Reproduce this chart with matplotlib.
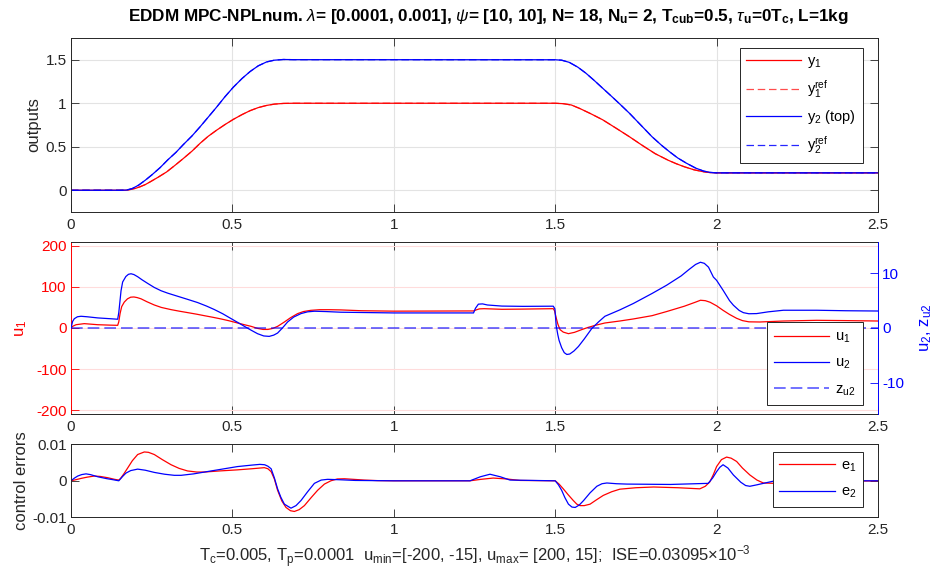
import matplotlib
matplotlib.use('Agg')
import matplotlib.pyplot as plt

plt.rcParams['font.family'] = ['Liberation Sans', 'DejaVu Sans']
plt.rcParams['mathtext.fontset'] = 'custom'
plt.rcParams['mathtext.rm'] = 'Liberation Sans'
plt.rcParams['mathtext.it'] = 'Liberation Sans:italic'
plt.rcParams['mathtext.bf'] = 'Liberation Sans:bold'
plt.rcParams['axes.unicode_minus'] = False

# ---------------- data ----------------
t_y1 = [0, 0.15, 0.17, 0.183, 0.2, 0.214, 0.23, 0.245, 0.27, 0.296, 0.32, 0.348, 0.375, 0.40,
        0.425, 0.451, 0.477, 0.503, 0.53, 0.555, 0.58, 0.606, 0.63, 0.658, 0.69, 1.5, 1.525,
        1.55, 1.576, 1.61, 1.647, 1.69, 1.73, 1.77, 1.81, 1.85, 1.875, 1.9, 1.93, 1.96, 1.98,
        2.0, 2.5]
y1 = [0, 0, 0.0, 0.008, 0.022, 0.04, 0.065, 0.096, 0.15, 0.21, 0.28, 0.365, 0.45, 0.54,
      0.62, 0.69, 0.755, 0.815, 0.87, 0.915, 0.95, 0.975, 0.99, 0.998, 1.0, 1.0, 0.995,
      0.98, 0.94, 0.88, 0.81, 0.71, 0.615, 0.515, 0.42, 0.345, 0.305, 0.27, 0.235, 0.212, 0.203,
      0.2, 0.2]
y1_ref = [0, 0, 0.0, 0.008, 0.022, 0.04, 0.065, 0.096, 0.15, 0.21, 0.28, 0.365, 0.45, 0.54,
          0.62, 0.69, 0.755, 0.815, 0.87, 0.915, 0.95, 0.975, 0.99, 0.998, 1.0, 1.0, 0.995,
          0.98, 0.94, 0.88, 0.81, 0.71, 0.615, 0.515, 0.42, 0.345, 0.305, 0.27, 0.235, 0.212,
          0.203, 0.2, 0.2]

t_y2 = [0, 0.15, 0.172, 0.19, 0.21, 0.23, 0.25, 0.276, 0.30, 0.325, 0.348, 0.375, 0.40, 0.425,
        0.451, 0.477, 0.503, 0.53, 0.555, 0.58, 0.606, 0.63, 0.658, 0.69, 1.5, 1.52, 1.5436,
        1.57, 1.595, 1.62, 1.647, 1.673, 1.699, 1.73, 1.765, 1.80, 1.83, 1.855, 1.88, 1.907,
        1.935, 1.96, 1.98, 2.0, 2.5]
y2 = [0, 0, 0.002, 0.02, 0.06, 0.115, 0.175, 0.26, 0.35, 0.435, 0.525, 0.625, 0.73, 0.84,
      0.955, 1.075, 1.185, 1.285, 1.365, 1.43, 1.475, 1.495, 1.503, 1.501, 1.5, 1.495, 1.47,
      1.415, 1.346, 1.265, 1.173, 1.085, 0.995, 0.885, 0.75, 0.615, 0.515, 0.44, 0.37, 0.31,
      0.255, 0.22, 0.205, 0.2, 0.2]
y2_ref = [0, 0, 0.002, 0.02, 0.06, 0.115, 0.175, 0.26, 0.35, 0.435, 0.525, 0.625, 0.73, 0.84,
          0.955, 1.075, 1.185, 1.285, 1.365, 1.43, 1.475, 1.495, 1.503, 1.501, 1.5, 1.495, 1.47,
          1.415, 1.346, 1.265, 1.173, 1.085, 0.995, 0.885, 0.75, 0.615, 0.515, 0.44, 0.37, 0.31,
          0.255, 0.22, 0.205, 0.2, 0.2]

t_u1 = [0, 0.005, 0.0155, 0.041, 0.083, 0.12, 0.1446, 0.148, 0.152, 0.157, 0.165, 0.175, 0.185,
        0.195, 0.205, 0.217, 0.235, 0.258, 0.28, 0.31, 0.335, 0.361, 0.39, 0.413, 0.44, 0.465,
        0.49, 0.516, 0.537, 0.558, 0.578, 0.595, 0.61, 0.625, 0.64, 0.661, 0.68, 0.702, 0.72,
        0.743, 0.77, 0.8, 0.836, 0.9, 1.0, 1.247, 1.255, 1.265, 1.28, 1.335, 1.4, 1.494, 1.498,
        1.503, 1.508, 1.515, 1.525, 1.541, 1.56, 1.582, 1.6, 1.624, 1.654, 1.70, 1.742, 1.80,
        1.845, 1.90, 1.935, 1.95, 1.965, 1.98, 2.0, 2.02, 2.04, 2.062, 2.08, 2.1, 2.134, 2.17,
        2.207, 2.31, 2.4, 2.5]
u1 = [0, 4, 8, 10.6, 8, 7, 6.5, 15, 35, 52, 63, 71, 75,
      75.5, 74, 71, 64, 56, 50, 44.7, 41, 37.5, 33.5, 30, 26, 22,
      17.5, 12.2, 8, 4, -1, -3.5, -3.5, -1, 4, 14.6, 25, 35, 40,
      43, 44.5, 44.5, 44, 42, 41, 41.5, 44, 46.5, 47, 45.5, 46, 47, 42,
      25, 10, -4, -10, -13.8, -10.5, -4, 1, 6.5, 12.2, 17, 22, 30,
      40, 53, 63, 67.5, 66.5, 62.6, 54, 43, 33, 23.6, 18, 15, 14.6, 15.8,
      17, 18.7, 18, 17]

t_u2 = [0, 0.005, 0.0103, 0.02, 0.031, 0.05, 0.083, 0.12, 0.1446, 0.148, 0.151, 0.155, 0.16,
        0.17, 0.178, 0.186, 0.195, 0.2065, 0.22, 0.2375, 0.258, 0.279, 0.30, 0.33, 0.36, 0.392,
        0.42, 0.444, 0.47, 0.496, 0.517, 0.537, 0.558, 0.578, 0.597, 0.614, 0.628, 0.64, 0.655,
        0.671, 0.69, 0.7125, 0.733, 0.754, 0.79, 0.836, 1.0, 1.247, 1.253, 1.262, 1.275, 1.29,
        1.335, 1.4, 1.494, 1.499, 1.503, 1.508, 1.512, 1.52, 1.528, 1.536, 1.545, 1.558, 1.572,
        1.59, 1.613, 1.634, 1.654, 1.70, 1.742, 1.80, 1.845, 1.89, 1.915, 1.935, 1.95, 1.962,
        1.975, 1.99, 2.0, 2.02, 2.04, 2.052, 2.07, 2.083, 2.1, 2.124, 2.16, 2.207, 2.31, 2.4,
        2.5]
u2 = [0, 1.2, 1.7, 2.05, 2.14, 2.05, 1.84, 1.7, 1.6, 2.8, 4.5, 6.8, 8.4,
      9.4, 9.8, 9.9, 9.75, 9.36, 8.8, 8.14, 7.4, 6.8, 6.35, 5.8, 5.25, 4.65,
      4.0, 3.37, 2.6, 1.71, 1.0, 0.31, -0.4, -1.04, -1.45, -1.53, -1.3, -0.92, 0.0,
      1.1, 2.0, 2.63, 2.95, 3.06, 3.0, 2.88, 2.75, 2.75, 3.6, 4.35, 4.4, 4.2,
      4.0, 3.95, 3.98, 3.5, 0.5, -1.2, -2.26, -3.6, -4.5, -4.83, -4.75, -4.2, -3.37,
      -2.0, -0.12, 1.1, 2.14, 3.3, 4.47, 6.3, 7.8, 9.5, 10.7, 11.6, 12.0, 11.8,
      11.1, 9.3, 8.7, 6.9, 5.0, 4.16, 3.2, 2.8, 2.6, 2.63, 2.95, 3.24, 3.24, 3.15,
      3.1]

t_z = [0, 2.5]
z_u2 = [0, 0]

t_e1 = [0, 0.015, 0.031, 0.05, 0.072, 0.09, 0.114, 0.135, 0.148, 0.153, 0.163, 0.1755, 0.19,
        0.2065, 0.227, 0.24, 0.258, 0.283, 0.31, 0.335, 0.361, 0.39, 0.413, 0.46, 0.516, 0.56,
        0.599, 0.61, 0.62, 0.63, 0.64, 0.653, 0.666, 0.68, 0.692, 0.707, 0.723, 0.745, 0.764,
        0.785, 0.805, 0.825, 0.847, 0.875, 0.909, 0.95, 1.0, 1.236, 1.27, 1.308, 1.35, 1.391,
        1.5, 1.512, 1.525, 1.54, 1.556, 1.567, 1.577, 1.59, 1.608, 1.628, 1.649, 1.675, 1.70,
        1.75, 1.805, 1.88, 1.948, 1.965, 1.979, 1.99, 2.0, 2.015, 2.031, 2.045, 2.062, 2.08,
        2.103, 2.125, 2.145, 2.181, 2.3, 2.5]
e1 = [0, 0.0003, 0.00065, 0.001, 0.0013, 0.0012, 0.00084, 0.0004, 0.0002, 0.0006, 0.0018,
      0.0035, 0.0055, 0.0072, 0.0079, 0.0078, 0.0072, 0.0058, 0.0044, 0.0034, 0.0027, 0.0024,
      0.0024, 0.0027, 0.003, 0.0033, 0.0036, 0.0033, 0.0025, 0.0005, -0.0026, -0.0055, -0.0073,
      -0.0082, -0.0084, -0.0079, -0.0068, -0.0045, -0.0026, -0.0009, 0, 0.0005, 0.00056,
      0.0004, 0.0002, 0.00005, 0, 0, 0.0004, 0.00075, 0.0005, 0.0001, 0, -0.0009, -0.0022,
      -0.0038, -0.0054, -0.0064, -0.0068, -0.0068, -0.0064, -0.0052, -0.004, -0.003, -0.0023,
      -0.0019, -0.0017, -0.0019, -0.0022, -0.0015, -0.0003, 0.0017, 0.0039, 0.0058, 0.0065,
      0.0062, 0.0053, 0.0035, 0.0016, 0.0002, -0.0006, -0.0007, -0.0003, 0]

t_e2 = [0, 0.01, 0.0207, 0.033, 0.0465, 0.06, 0.083, 0.11, 0.13, 0.148, 0.153, 0.160, 0.170,
        0.185, 0.2065, 0.23, 0.258, 0.29, 0.32, 0.341, 0.38, 0.434, 0.475, 0.516, 0.56, 0.585,
        0.6, 0.61, 0.62, 0.63, 0.64, 0.65, 0.661, 0.6815, 0.697, 0.7125, 0.733, 0.754, 0.775,
        0.795, 0.83, 0.88, 1.0, 1.236, 1.268, 1.298, 1.33, 1.36, 1.5, 1.51, 1.52, 1.53, 1.541,
        1.552, 1.562, 1.575, 1.588, 1.608, 1.629, 1.645, 1.66, 1.69, 1.722, 1.857, 1.974,
        1.988, 2.0, 2.01, 2.02, 2.035, 2.052, 2.075, 2.09, 2.103, 2.125, 2.145, 2.181, 2.5]
e2 = [0, 0.0007, 0.0013, 0.0017, 0.0019, 0.0017, 0.0011, 0.0006, 0.0003, 0, 0.0005, 0.0012,
      0.0021, 0.0028, 0.0032, 0.0029, 0.0023, 0.0018, 0.0015, 0.0015, 0.0019, 0.0027, 0.0033,
      0.0039, 0.0043, 0.0045, 0.0044, 0.004, 0.0033, 0.0008, -0.0022, -0.0045, -0.0064,
      -0.0075, -0.0068, -0.0054, -0.003, -0.0007, 0.0002, 0.0004, 0.0003, 0.0001, 0, 0, 0.0011,
      0.0018, 0.0011, 0.0002, 0, -0.0011, -0.0026, -0.0046, -0.0064, -0.0072, -0.0073, -0.0066,
      -0.0054, -0.0033, -0.0015, -0.0008, -0.0006, -0.0008, -0.0009, -0.001, -0.0007, 0.0008,
      0.0025, 0.0037, 0.0044, 0.0035, 0.0016, -0.0004, -0.0013, -0.0015, -0.0011, -0.0007, 0,
      0]

x_ticks = [0, 0.5, 1, 1.5, 2, 2.5]
x_ticklabels = ['0', '0.5', '1', '1.5', '2', '2.5']
y_ticks_out = [0, 0.5, 1, 1.5]
y_ticklabels_out = ['0', '0.5', '1', '1.5']
u1_ticks = [-200, -100, 0, 100, 200]
u1_ticklabels = ['-200', '-100', '0', '100', '200']
u2_ticks = [-10, 0, 10]
u2_ticklabels = ['-10', '0', '10']
e_ticks = [-0.01, 0, 0.01]
e_ticklabels = ['-0.01', '0', '0.01']

title_text = (r'EDDM MPC-NPLnum. $\lambda$= [0.0001, 0.001], $\psi$= [10, 10], N= 18, '
              r'N$_\mathbf{u}$= 2, T$_\mathbf{cub}$=0.5, $\tau_\mathbf{u}$=0T$_\mathbf{c}$, L=1kg')
bottom_text = (r'T$_\mathrm{c}$=0.005, T$_\mathrm{p}$=0.0001  u$_\mathrm{min}$=[-200, -15], '
               r'u$_\mathrm{max}$= [200, 15];  ISE=0.03095×10$^{-3}$')

# ---------------- figure ----------------
W, H = 937, 571
fig = plt.figure(figsize=(W / 100, H / 100), dpi=100)

def rect(x0, y0, x1, y1):
    return [x0 / W, 1 - y1 / H, (x1 - x0) / W, (y1 - y0) / H]

DARK = '#262626'
GRID = '#e3e3e3'
RED = '#ff0000'
BLUE = '#0000ff'
TICK_FS = 11
LAB_FS = 12
LEG_FS = 10.5

def base_style(ax):
    ax.tick_params(direction='in', length=5.5, width=0.6, top=True, right=True,
                   labelsize=TICK_FS, colors=DARK)
    ax.tick_params(axis='x', pad=4)
    ax.tick_params(axis='y', pad=3)
    for s in ax.spines.values():
        s.set_linewidth(0.7)
        s.set_color(DARK)
    ax.set_xlim(0, 2.5)
    ax.set_xticks(x_ticks)
    ax.set_xticklabels(x_ticklabels)

def style_legend(leg):
    leg.get_frame().set_linewidth(0.7)

# ---- top panel ----
ax1 = fig.add_axes(rect(71, 38, 878, 212))
base_style(ax1)
ax1.set_ylim(-0.25, 1.75)
ax1.set_yticks(y_ticks_out)
ax1.set_yticklabels(y_ticklabels_out)
ax1.grid(True, color=GRID, linewidth=0.8)
ax1.set_axisbelow(True)
ax1.plot(t_y1, y1, color=RED, lw=0.9, label=r'y$_1$')
ax1.plot(t_y1, y1_ref, color=RED, lw=0.9, ls=(0, (6, 3)), alpha=0.7, label=r'y$_1^\mathrm{ref}$')
ax1.plot(t_y2, y2, color=BLUE, lw=0.9, label=r'y$_2$ (top)')
ax1.plot(t_y2, y2_ref, color=BLUE, lw=0.9, ls=(0, (6, 3)), alpha=0.85, label=r'y$_2^\mathrm{ref}$')
ax1.set_ylabel('outputs', fontsize=LAB_FS, color=DARK)
ax1.yaxis.set_label_coords(-0.037, 0.5)
leg1 = ax1.legend(loc='upper right', bbox_to_anchor=(0.981, 0.944), fontsize=LEG_FS,
                  handlelength=3.8, labelspacing=0.55, borderpad=0.45, handletextpad=0.4,
                  fancybox=False, framealpha=1, edgecolor=DARK, borderaxespad=0)
style_legend(leg1)
ttl = ax1.set_title(title_text, fontsize=12.3, fontweight='bold', color='black', pad=12)
ttl.set_x((488 - 71) / 807)

# ---- middle panel ----
ax2 = fig.add_axes(rect(71, 241.7, 878, 414.3))
base_style(ax2)
ax2.tick_params(axis='y', right=False, colors=RED)
ax2.spines['left'].set_color(RED)
ax2.spines['right'].set_visible(False)
ax2.set_ylim(-210, 210)
ax2.set_yticks(u1_ticks)
ax2.set_yticklabels(u1_ticklabels)
ax2.grid(True, axis='x', color=GRID, linewidth=0.8)
ax2.grid(True, axis='y', color='#ffdcdc', linewidth=0.8)
ax2.set_axisbelow(True)
l_u1, = ax2.plot(t_u1, u1, color=RED, lw=0.9, label=r'u$_1$')
ax2.set_ylabel(r'u$_1$', fontsize=LAB_FS, color=RED)
ax2.yaxis.set_label_coords(-0.052, 0.5)

ax2r = ax2.twinx()
ax2r.set_position(ax2.get_position())
ax2r.set_ylim(-15.75, 15.75)
ax2r.set_yticks(u2_ticks)
ax2r.set_yticklabels(u2_ticklabels)
ax2r.tick_params(axis='y', direction='in', length=5.5, width=0.6, labelsize=TICK_FS,
                 colors=BLUE, pad=3)
for k in ['left', 'top', 'bottom']:
    ax2r.spines[k].set_visible(False)
ax2r.spines['right'].set_color(BLUE)
ax2r.spines['right'].set_linewidth(0.7)
l_u2, = ax2r.plot(t_u2, u2, color=BLUE, lw=0.9, label=r'u$_2$')
l_z, = ax2r.plot(t_z, z_u2, color=BLUE, lw=1.2, ls=(0, (7, 3)), alpha=0.65,
                 label=r'z$_\mathrm{u2}$')
ax2r.set_ylabel(r'u$_2$, z$_\mathrm{u2}$', fontsize=LAB_FS, color=BLUE)
ax2r.yaxis.set_label_coords(1.0496, 0.5)
leg2 = ax2r.legend(handles=[l_u1, l_u2, l_z], loc='lower right',
                   bbox_to_anchor=(0.981, 0.054), fontsize=LEG_FS, handlelength=3.8,
                   labelspacing=0.75, borderpad=0.5, handletextpad=0.4, fancybox=False,
                   framealpha=1, edgecolor=DARK, borderaxespad=0)
style_legend(leg2)

# ---- bottom panel ----
ax3 = fig.add_axes(rect(71, 444.3, 878, 517.3))
base_style(ax3)
ax3.set_ylim(-0.01, 0.01)
ax3.set_yticks(e_ticks)
ax3.set_yticklabels(e_ticklabels)
ax3.plot(t_e1, e1, color=RED, lw=0.9, label=r'e$_1$')
ax3.plot(t_e2, e2, color=BLUE, lw=0.9, label=r'e$_2$')
ax3.set_ylabel('control errors', fontsize=LAB_FS, color=DARK)
ax3.yaxis.set_label_coords(-0.052, 0.5)
leg3 = ax3.legend(loc='upper right', bbox_to_anchor=(0.981, 0.895), fontsize=LEG_FS,
                  handlelength=3.8, labelspacing=0.75, borderpad=0.45, handletextpad=0.4,
                  fancybox=False, framealpha=1, edgecolor=DARK, borderaxespad=0)
style_legend(leg3)

fig.text(474.5 / W, 1 - 562 / H, bottom_text, ha='center', va='baseline', fontsize=12,
         color=DARK)

fig.savefig('out.png', dpi=100)
